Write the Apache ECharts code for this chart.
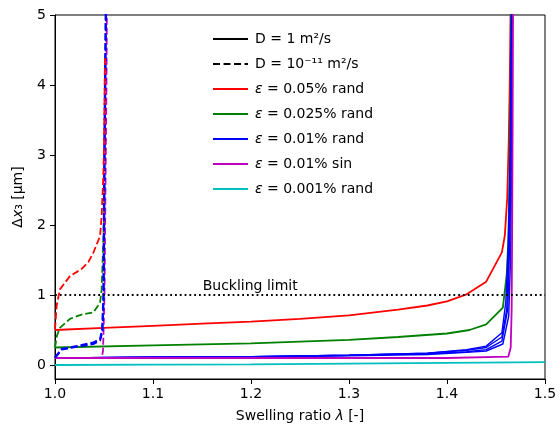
<!DOCTYPE html>
<html>
<head>
<meta charset="utf-8">
<script src="https://cdn.jsdelivr.net/npm/echarts@6/dist/echarts.min.js"></script>
<style>html,body{margin:0;padding:0;background:#fff;}#c{width:560px;height:428px;}</style>
</head>
<body>
<div id="c"></div>
<script>
// ---- tick labels ----
const xTicks = [1.0, 1.1, 1.2, 1.3, 1.4, 1.5];
const yTicks = [0, 1, 2, 3, 4, 5];

// ---- D = 1 m²/s (solid) ----
const redSolid = [[1.0,0.50],[1.05,0.53],[1.1,0.56],[1.15,0.59],[1.2,0.62],[1.25,0.66],[1.3,0.71],[1.35,0.79],[1.38,0.85],[1.40,0.91],[1.42,1.01],[1.44,1.19],[1.456,1.61],[1.459,1.85],[1.4615,2.4],[1.463,3.2],[1.464,4.0],[1.465,5.2]];
const greenSolid = [[1.0,0.25],[1.1,0.28],[1.2,0.31],[1.3,0.36],[1.35,0.40],[1.40,0.45],[1.423,0.50],[1.44,0.58],[1.457,0.82],[1.461,1.3],[1.4626,1.8],[1.464,2.8],[1.465,4.0],[1.4655,5.2]];
const blueSolid1 = [[1.0,0.10],[1.1,0.11],[1.2,0.12],[1.3,0.14],[1.38,0.17],[1.42,0.21],[1.44,0.25],[1.456,0.40],[1.461,0.8],[1.463,1.6],[1.465,3.0],[1.466,5.2]];
const blueSolid2 = [[1.0,0.10],[1.1,0.11],[1.2,0.12],[1.3,0.14],[1.38,0.16],[1.42,0.19],[1.44,0.22],[1.456,0.34],[1.462,0.8],[1.464,1.8],[1.4655,3.2],[1.4665,5.2]];
const blueSolid3 = [[1.0,0.10],[1.1,0.11],[1.2,0.12],[1.3,0.14],[1.38,0.17],[1.42,0.22],[1.44,0.27],[1.456,0.46],[1.460,0.9],[1.4625,1.7],[1.4645,3.0],[1.4658,5.2]];
const blueSolid4 = [[1.0,0.10],[1.1,0.11],[1.2,0.115],[1.3,0.13],[1.38,0.15],[1.42,0.18],[1.44,0.20],[1.457,0.30],[1.463,0.7],[1.465,1.6],[1.466,3.0],[1.4668,5.2]];
const magentaSolid = [[1.0,0.10],[1.2,0.10],[1.4,0.10],[1.4626,0.12],[1.4650,0.25],[1.466,0.8],[1.4665,2.0],[1.467,3.5],[1.4674,5.2]];
const cyanSolid = [[1.0,0.0],[1.1,0.005],[1.2,0.01],[1.3,0.02],[1.4,0.03],[1.5,0.04]];

// ---- D = 1e-11 m²/s (dashed) ----
const redDashed = [[1.0,0.51],[1.0017,0.85],[1.005,1.08],[1.0153,1.27],[1.027,1.37],[1.034,1.47],[1.039,1.6],[1.046,1.84],[1.0476,2.13],[1.0493,2.7],[1.050,3.1],[1.0505,3.8],[1.051,4.4]];
const greenDashed = [[1.0,0.25],[1.002,0.42],[1.005,0.53],[1.0153,0.66],[1.027,0.72],[1.039,0.75],[1.046,0.89],[1.0476,1.08],[1.049,1.65],[1.050,2.13],[1.0505,2.6]];
const blueDashed1 = [[1.0,0.11],[1.0068,0.23],[1.022,0.27],[1.039,0.32],[1.046,0.37],[1.048,0.51],[1.0493,0.94],[1.0503,3.08],[1.0518,5.2]];
const blueDashed2 = [[1.0,0.10],[1.0068,0.22],[1.022,0.26],[1.039,0.30],[1.046,0.35],[1.0485,0.48],[1.0497,1.0],[1.0508,3.2],[1.0522,5.2]];
const magentaDashed = [[1.0,0.10],[1.02,0.10],[1.04,0.10],[1.0476,0.10],[1.049,0.2],[1.0505,1.0],[1.0515,2.5],[1.0525,4.0],[1.053,5.2]];

// ---- buckling limit ----
const bucklingLimit = [[1.0,1.0],[1.5,1.0]];
const bucklingLabel = [[1.1507,1.0]];

const FONT = 'DejaVu Sans';
const RED = '#ff0000', GREEN = '#008000', BLUE = '#0000ff', MAG = '#bf00bf', CYAN = '#00bfbf';
const N_D1 = 'D = 1 m²/s', N_D2 = 'D = 10⁻¹¹ m²/s';
const N_R = 'ε = 0.05% rand', N_G = 'ε = 0.025% rand', N_B = 'ε = 0.01% rand', N_M = 'ε = 0.01% sin', N_C = 'ε = 0.001% rand';
const SOLID_ICON = 'path://M0,0h35v2h-35z';
const DASH_ICON = 'path://M0,0h7v2h-7zM10.5,0h7v2h-7zM21,0h7v2h-7zM31.5,0h3.5v2h-3.5z';

function line(name, data, color, dashed, width) {
  return {
    type: 'line', name: name, data: data, showSymbol: false, symbol: 'none',
    clip: true, animation: false,
    lineStyle: { color: color, width: width || 1.8, type: dashed ? [7, 3] : 'solid' },
    itemStyle: { color: color }
  };
}

const chart = echarts.init(document.getElementById('c'), null, { renderer: 'canvas' });
chart.setOption({
  animation: false,
  textStyle: { fontFamily: FONT },
  grid: { left: 55, top: 15, width: 490, height: 364, show: true, borderColor: '#000', borderWidth: 1, backgroundColor: 'transparent' },
  xAxis: {
    type: 'value', min: 1.0, max: 1.5,
    name: '{t|Swelling ratio }{i|λ}{t| [-]}', nameLocation: 'middle', nameGap: 30,
    nameTextStyle: { rich: {
      t: { fontFamily: FONT, fontSize: 14, color: '#000' },
      i: { fontFamily: FONT, fontSize: 14, color: '#000', fontStyle: 'italic' } } },
    axisLine: { onZero: false, lineStyle: { color: '#000', width: 1 } },
    axisTick: { show: true, length: 5, customValues: xTicks, lineStyle: { color: '#000' } },
    axisLabel: { customValues: xTicks, formatter: v => v.toFixed(1), color: '#000', fontSize: 14, fontFamily: FONT, margin: 8 },
    splitLine: { show: false }
  },
  yAxis: {
    type: 'value', min: -0.2, max: 5,
    name: '{t|Δ}{i|x}{t|₃ [μm]}', nameLocation: 'middle', nameGap: 30, nameRotate: 90,
    nameTextStyle: { rich: {
      t: { fontFamily: FONT, fontSize: 14, color: '#000' },
      i: { fontFamily: FONT, fontSize: 14, color: '#000', fontStyle: 'italic' } } },
    axisLine: { show: true, onZero: false, lineStyle: { color: '#000', width: 1 } },
    axisTick: { show: true, length: 5, customValues: yTicks, lineStyle: { color: '#000' } },
    axisLabel: { customValues: yTicks, color: '#000', fontSize: 14, fontFamily: FONT, margin: 9 },
    splitLine: { show: false }
  },
  legend: {
    orient: 'vertical', left: 208, top: 27, itemWidth: 35, itemHeight: 14, itemGap: 11,
    data: [
      { name: N_D1, icon: SOLID_ICON }, { name: N_D2, icon: DASH_ICON },
      { name: N_R, icon: SOLID_ICON }, { name: N_G, icon: SOLID_ICON }, { name: N_B, icon: SOLID_ICON },
      { name: N_M, icon: SOLID_ICON }, { name: N_C, icon: SOLID_ICON }
    ],
    formatter: n => n.replace('ε', '{i|ε}'),
    textStyle: { fontFamily: FONT, fontSize: 14, color: '#000', padding: [0, 0, 0, 2],
      rich: { i: { fontFamily: FONT, fontSize: 14, color: '#000', fontStyle: 'italic' } } },
    selectedMode: false
  },
  series: [
    line(N_D1, [], '#000', false, 1.8),
    line(N_D2, [], '#000', true, 1.8),
    line(N_R, redSolid, RED),
    line(N_G, greenSolid, GREEN),
    line(N_B, blueSolid1, BLUE, false, 1.4),
    line(N_B, blueSolid2, BLUE, false, 1.4),
    line(N_B, blueSolid3, BLUE, false, 1.4),
    line(N_B, blueSolid4, BLUE, false, 1.4),
    line(N_M, magentaSolid, MAG),
    line('green dashed', greenDashed, GREEN, true),
    line('magenta dashed', magentaDashed, MAG, true),
    line('blue dashed 1', blueDashed1, BLUE, true, 2),
    line('blue dashed 2', blueDashed2, BLUE, true, 2),
    line('red dashed', redDashed, RED, true),
    line(N_C, cyanSolid, CYAN),
    {
      type: 'line', name: 'buckling', data: bucklingLimit, showSymbol: false, symbol: 'none',
      lineStyle: { color: '#000', width: 1.8, type: [1.8, 3] }, animation: false
    },
    {
      type: 'scatter', name: 'buckling label', data: bucklingLabel, symbolSize: 0, animation: false,
      itemStyle: { color: '#000', opacity: 1 },
      label: { show: true, formatter: 'Buckling limit', position: [0, -16], color: '#000',
        textBorderWidth: 0, fontSize: 14, fontFamily: FONT }
    }
  ]
});
</script>
</body>
</html>
